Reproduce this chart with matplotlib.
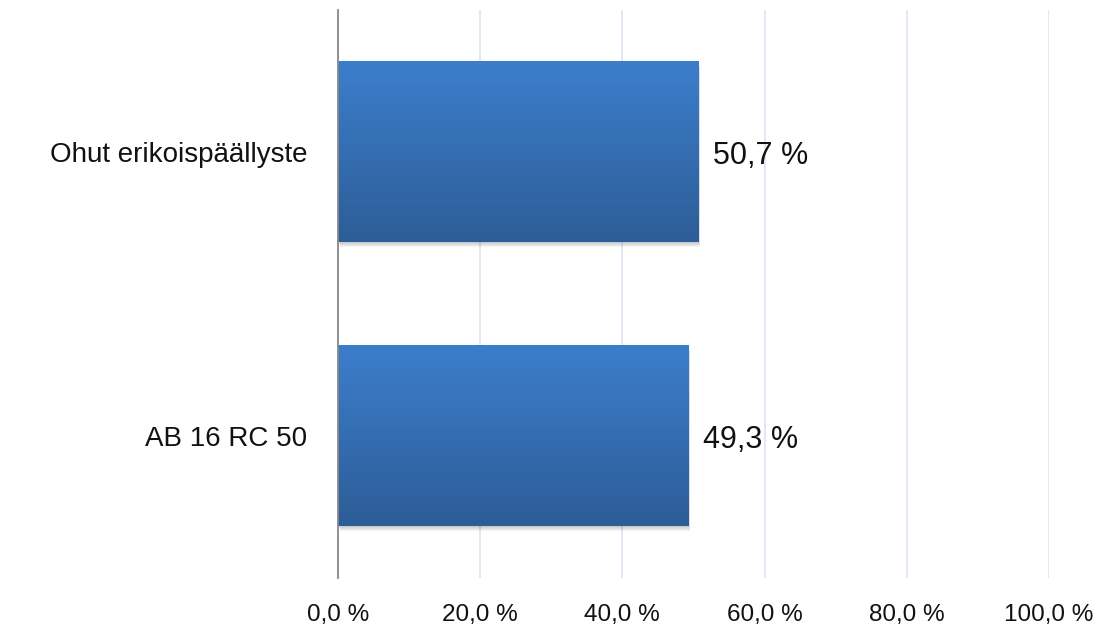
import numpy as np
import matplotlib.pyplot as plt
from matplotlib.patches import Rectangle

categories = ['AB 16 RC 50', 'Ohut erikoispäällyste']
shares = [49.3, 50.7]
xticks = [0, 20, 40, 60, 80, 100]
xtick_labels = ['0,0 %', '20,0 %', '40,0 %', '60,0 %', '80,0 %', '100,0 %']

plt.rcParams['font.family'] = ['Liberation Sans', 'DejaVu Sans']

fig = plt.figure(figsize=(11.15, 6.26), dpi=100)
ax = fig.add_axes([0.3031, 0.0767, 0.6377, 0.9073])

bar_h = 0.634
# vertical gradient, light on top, dark at the bottom
top = np.array([0x3c, 0x7e, 0xcc]) / 255
bot = np.array([0x2d, 0x5d, 0x97]) / 255
t = np.linspace(0, 1, 128)[:, None]
grad = (top * (1 - t) + bot * t)[:, None, :]

px_x = 100 / 711   # data units per pixel
px_y = 2 / 568

for i, v in enumerate(shares):
    y0 = i - bar_h / 2
    # soft drop shadow, offset down and to the right
    for d in [1, 2, 3, 4, 5]:
        ax.add_patch(Rectangle((d * 0.4 * px_x, y0 - d * px_y), v, bar_h,
                               facecolor='black', alpha=0.045, edgecolor='none',
                               zorder=2))
    ax.imshow(grad, extent=(0, v, y0, y0 + bar_h), aspect='auto', zorder=3,
              interpolation='bilinear')
    ax.text(v + 2.1, i - 0.015, f'{v:.1f} %'.replace('.', ','), va='center',
            ha='left', fontsize=22, color='#111111', zorder=4)

ax.set_xlim(0, 100)
ax.set_ylim(-0.5, 1.5)
ax.set_yticks(range(len(categories)))
ax.set_yticklabels(categories, fontsize=20, color='#111111')
ax.set_xticks(xticks)
ax.set_xticklabels(xtick_labels, fontsize=17.5, color='#111111')
ax.tick_params(axis='x', length=0, pad=19)
ax.tick_params(axis='y', length=0, pad=22)
ax.grid(axis='x', color='#dce6f2', linewidth=1.3, zorder=0)
ax.set_axisbelow(True)
for s in ['top', 'right', 'bottom']:
    ax.spines[s].set_visible(False)
ax.spines['left'].set_color('#888888')
ax.spines['left'].set_linewidth(1.3)
ax.spines['left'].set_zorder(5)

plt.savefig('out.png', dpi=100)
